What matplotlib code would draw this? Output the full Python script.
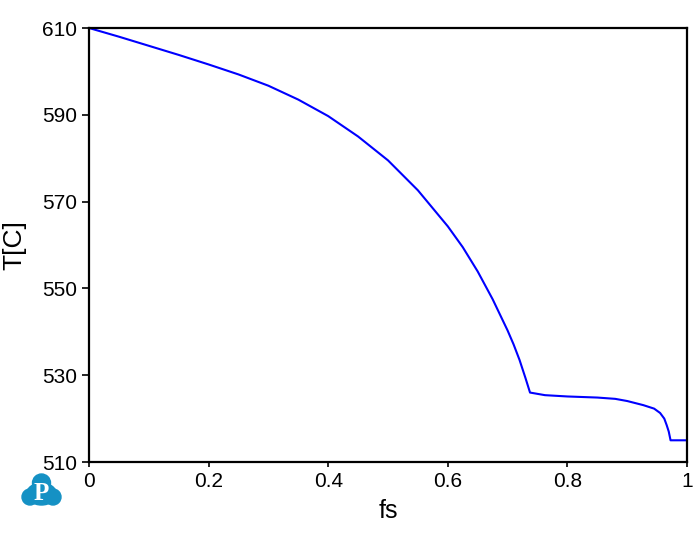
import matplotlib
matplotlib.use("Agg")
import matplotlib.pyplot as plt
from matplotlib.patches import Circle, Ellipse

plt.rcParams['font.family'] = ['Liberation Sans', 'DejaVu Sans']

fs = [0.00, 0.05, 0.10, 0.15, 0.20, 0.25, 0.30, 0.35, 0.40, 0.45, 0.50, 0.55,
      0.60, 0.625, 0.65, 0.675, 0.70, 0.71, 0.72, 0.73, 0.7375, 0.7625, 0.80,
      0.85, 0.88, 0.90, 0.927, 0.945, 0.955, 0.962, 0.966, 0.9695, 0.9725, 1.0]
T = [610.0, 608.0, 605.9, 603.8, 601.6, 599.3, 596.7, 593.5, 589.7, 585.0,
     579.5, 572.6, 564.3, 559.5, 553.9, 547.5, 540.3, 537.1, 533.5, 529.3,
     526.0, 525.4, 525.1, 524.85, 524.55, 524.05, 523.1, 522.3, 521.3, 520.0,
     518.5, 517.0, 515.0, 515.0]

xticks = [0, 0.2, 0.4, 0.6, 0.8, 1]
xticklabels = ["0", "0.2", "0.4", "0.6", "0.8", "1"]
yticks = [510, 530, 550, 570, 590, 610]

fig = plt.figure(figsize=(7, 5.34), dpi=100)
ax = fig.add_axes([89/700, 72/534, 598/700, 434/534])
ax.plot(fs, T, color='#0000ff', lw=1.5)
ax.set_xlim(0, 1)
ax.set_ylim(510, 610)
ax.set_xticks(xticks)
ax.set_xticklabels(xticklabels)
ax.set_yticks(yticks)
ax.tick_params(axis='x', direction='out', length=3.6, width=1.2, labelsize=15, pad=3.5)
ax.tick_params(axis='y', direction='out', length=5, width=1.2, labelsize=15, pad=3.5)
for s in ax.spines.values():
    s.set_linewidth(1.6)
ax.set_xlabel("fs", fontsize=18)
ax.set_ylabel("T[C]", fontsize=19)
ax.xaxis.set_label_coords(0.5, -0.085)
ax.yaxis.set_label_coords(-0.105, 0.5)

# logo
lax = fig.add_axes([18/700, (534-512)/534, 46/700, 46/534])
lax.set_xlim(0, 46)
lax.set_ylim(0, 46)
lax.set_aspect('equal')
lax.axis('off')
c = '#1591c4'
lax.add_patch(Circle((23.5, 29), 9, color=c))
lax.add_patch(Circle((12, 15), 8, color=c))
lax.add_patch(Circle((35, 15), 8, color=c))
lax.add_patch(Ellipse((23.5, 18), 30, 22, color=c))
lax.text(23.5, 19, "P", color='white', fontsize=18, fontweight='bold',
         family='Liberation Serif', ha='center', va='center')

fig.savefig("out.png", dpi=100)
